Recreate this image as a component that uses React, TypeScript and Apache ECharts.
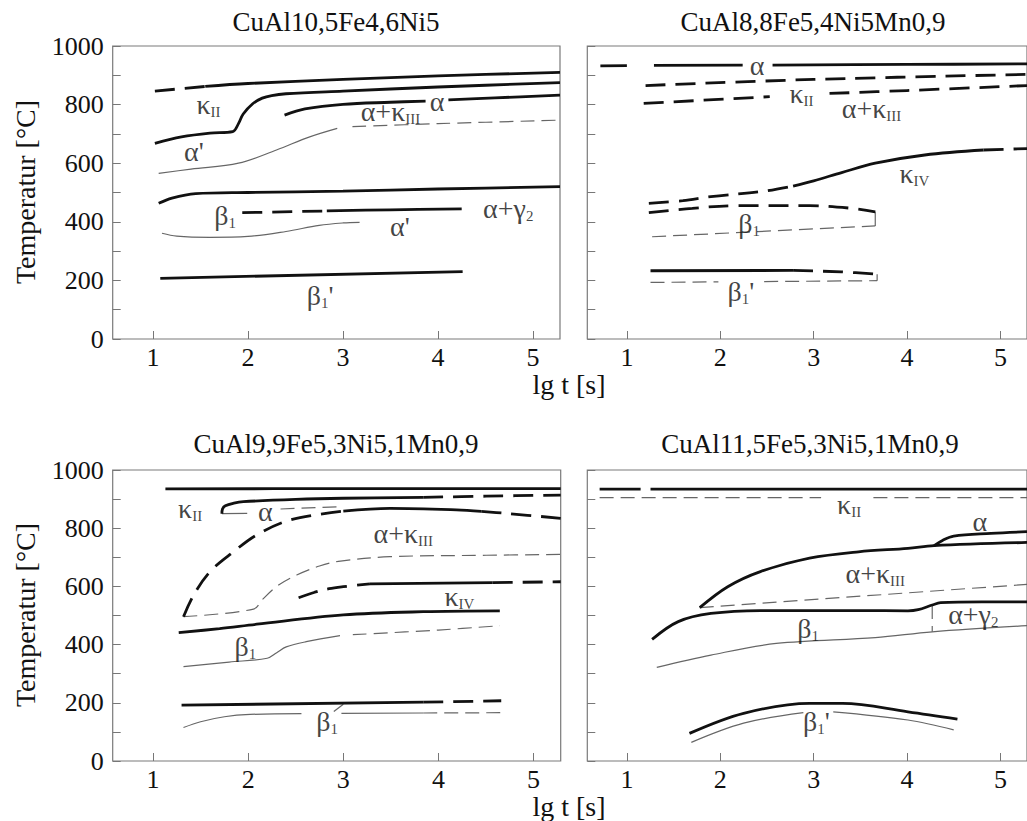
import React, { useEffect, useRef } from "react";
import * as echarts from "echarts";

// ---------- axis / text content ----------
const TITLES = [
  "CuAl10,5Fe4,6Ni5",
  "CuAl8,8Fe5,4Ni5Mn0,9",
  "CuAl9,9Fe5,3Ni5,1Mn0,9",
  "CuAl11,5Fe5,3Ni5,1Mn0,9",
];
const X_TICKS = [1, 2, 3, 4, 5];
const X_MIN = 0.576;
const X_MAX = 5.285;
const Y_MIN = 0;
const Y_MAX = 1000;
const Y_STEP = 100;
const Y_LABEL_STEP = 200;
const Y_NAME = "Temperatur [°C]";
const X_NAME = "lg t [s]";

// ---------- panel 1: CuAl10,5Fe4,6Ni5 ----------
const tlTopDash = [[1.02, 846], [1.55, 862]];
const tlTop = [[1.55, 862], [2, 872], [3, 886], [4, 898], [5.285, 910]];
const tlKappa = [[1.02, 668], [1.3, 690], [1.6, 703], [1.84, 708], [1.9, 735], [1.95, 768], [2.05, 803], [2.15, 822], [2.25, 831], [2.4, 837], [3, 846], [4, 860], [5.285, 875]];
const tlAlphaA = [[2.385, 764], [2.6, 785], [3.0, 801], [3.5, 808], [3.87, 812]];
const tlAlphaB = [[4.11, 816], [4.6, 823], [5.285, 832]];
const tlThin = [[1.06, 565], [1.4, 580], [1.9, 600], [2.3, 645], [2.65, 690], [2.94, 719]];
const tlThinDash = [[3.1, 725], [4, 735], [5.285, 747]];
const tlBeta = [[1.06, 463], [1.2, 481], [1.45, 496], [2, 500], [3, 505], [4, 512], [5.285, 520]];
const tlBetaDash = [[1.94, 431], [2.83, 437]];
const tlBetaSolid = [[2.83, 437], [3.5, 441], [4.25, 444]];
const tlAlphaPrime = [[1.095, 361], [1.25, 351], [1.6, 347], [2, 350], [2.4, 367], [2.75, 388], [3.0, 396], [3.175, 398]];
const tlBetaPrime = [[1.077, 207], [4.26, 230]];

// ---------- panel 2: CuAl8,8Fe5,4Ni5Mn0,9 ----------
const trAlphaA = [[0.716, 932], [1.0, 933]];
const trAlphaB = [[1.29, 934], [2.24, 935]];
const trAlphaC = [[2.56, 935], [4, 937], [5.285, 939]];
const trKappaII = [[1.2, 865], [3, 886], [5.285, 903]];
const trAlphaKappaA = [[1.18, 804], [2.53, 827]];
const trAlphaKappaB = [[3.17, 838], [4, 848], [5.285, 865]];
const trKappaIVDash = [[1.235, 463], [1.6, 472], [1.9, 486], [2.46, 504], [2.78, 522]];
const trKappaIV = [[2.78, 522], [3.0, 540], [3.3, 568], [3.66, 600], [4.19, 628], [4.82, 645]];
const trKappaIVDash2 = [[4.82, 645], [5.285, 650]];
const trBetaDash = [[1.235, 431], [1.7, 446], [2.18, 455], [2.956, 455], [3.41, 446], [3.66, 434]];
const trBetaVert = [[3.66, 434], [3.66, 386]];
const trBetaThin = [[1.27, 349], [3.66, 386]];
const trBetaPrime = [[1.253, 233], [2.78, 234]];
const trBetaPrimeDash = [[2.78, 234], [3.3, 229], [3.68, 221]];
const trBetaPrimeVert = [[3.68, 221], [3.68, 199]];
const trBetaPrimeThinA = [[1.253, 193], [1.98, 195]];
const trBetaPrimeThinB = [[2.47, 196], [3.68, 199]];

// ---------- panel 3: CuAl9,9Fe5,3Ni5,1Mn0,9 ----------
const blKappaII = [[1.13, 935], [3, 936], [5.285, 936]];
const blAlpha = [[1.724, 850], [1.73, 866], [1.76, 877], [1.85, 886], [1.95, 891], [2.5, 899], [3, 903], [3.84, 906]];
const blAlphaDash = [[3.84, 906], [4.5, 910], [5.285, 914]];
const blAlphaThin = [[1.724, 850], [1.99, 851]];
const blAlphaThinDash = [[2.34, 866], [2.97, 874]];
const blAkDashA = [[1.32, 496], [1.426, 570], [1.6, 651], [1.846, 719], [2.09, 777], [2.44, 828], [3.0, 859]];
const blAk = [[3.0, 859], [3.49, 868], [4.19, 863], [4.45, 858]];
const blAkDashB = [[4.45, 858], [4.71, 851], [5.285, 834]];
const blAkThin = [[1.32, 496], [2.056, 522], [2.15, 555], [2.3, 600], [2.51, 639], [2.75, 670], [2.97, 687], [3.49, 702], [4.5, 707], [5.285, 710]];
const blKappaIVDash = [[2.53, 561], [2.7, 580], [2.85, 592], [3.0, 599], [3.28, 609]];
const blKappaIV = [[3.28, 609], [4.57, 613]];
const blKappaIVDash2 = [[4.57, 613], [5.285, 616]];
const blBeta = [[1.27, 441], [1.7, 455], [2.09, 470], [3.0, 502], [3.84, 513], [4.645, 516]];
const blBetaThin = [[1.32, 324], [1.8, 340], [2.2, 353], [2.3, 372], [2.4, 392], [2.61, 410], [2.965, 431]];
const blBetaThinDash = [[3.1, 434], [4, 450], [4.645, 465]];
const blBetaPrime = [[1.3, 192], [3.84, 202]];
const blBetaPrimeDash = [[3.84, 202], [4.66, 207]];
const blBetaPrimeThinA = [[1.32, 115], [1.5, 135], [1.75, 152], [2.02, 160], [2.56, 163]];
const blBetaPrimeThinB = [[2.98, 164], [3.84, 165]];
const blBetaPrimeThinDash = [[3.84, 165], [4.66, 166]];
const blLeader = [[2.9, 170], [3.0, 195]];

// ---------- panel 4: CuAl11,5Fe5,3Ni5,1Mn0,9 ----------
const brKappaIIA = [[0.708, 934], [1.147, 934]];
const brKappaII = [[1.253, 934], [5.285, 934]];
const brKappaIIThinA = [[0.708, 905], [3.08, 905]];
const brKappaIIThinB = [[3.64, 905], [5.285, 905]];
const brAk = [[1.78, 527], [2.08, 599], [2.43, 651], [2.956, 697], [3.48, 719], [4.01, 731], [4.29, 740], [5.285, 751]];
const brAlpha = [[4.29, 740], [4.38, 758], [4.5, 773], [4.9, 782], [5.285, 788]];
const brAkThin = [[1.78, 527], [5.285, 607]];
const brBeta = [[1.27, 418], [1.55, 479], [1.9, 507], [2.43, 517], [3.5, 517], [4.01, 516], [4.12, 520], [4.27, 536], [4.36, 544], [4.8, 547], [5.285, 547]];
const brBetaVert = [[4.27, 536], [4.27, 444]];
const brBetaThin = [[1.32, 322], [1.9, 364], [2.6, 404], [3.66, 424], [4.27, 444], [5.285, 465]];
const brBetaPrime = [[1.67, 95], [2.25, 164], [2.956, 198], [3.31, 198], [4.01, 169], [4.54, 144]];
const brBetaPrimeThinA = [[1.69, 64], [2.25, 130], [2.89, 166]];
const brBetaPrimeThinB = [[3.21, 169], [4.01, 141], [4.5, 107]];

// ---------- phase labels (main text, subscript, tail, x, y) ----------
const tlLabels = [
  { t: "κ", s: "II", x: 1.585, y: 799 },
  { t: "α'", s: "", x: 1.43, y: 639 },
  { t: "α", s: "", x: 3.99, y: 812 },
  { t: "α+κ", s: "III", x: 3.5, y: 776 },
  { t: "β", s: "1", x: 1.76, y: 423 },
  { t: "α+γ", s: "2", x: 4.74, y: 446 },
  { t: "α'", s: "", x: 3.6, y: 383 },
  { t: "β", s: "1", tail: "'", x: 2.76, y: 150 },
];
const trLabels = [
  { t: "α", s: "", x: 2.394, y: 935 },
  { t: "κ", s: "II", x: 2.87, y: 838 },
  { t: "α+κ", s: "III", x: 3.62, y: 787 },
  { t: "κ", s: "IV", x: 4.08, y: 565 },
  { t: "β", s: "1", x: 2.31, y: 395 },
  { t: "β", s: "1", tail: "'", x: 2.22, y: 161 },
];
const blLabels = [
  { t: "κ", s: "II", x: 1.39, y: 868 },
  { t: "α", s: "", x: 2.18, y: 857 },
  { t: "α+κ", s: "III", x: 3.63, y: 782 },
  { t: "κ", s: "IV", x: 4.22, y: 565 },
  { t: "β", s: "1", x: 1.97, y: 393 },
  { t: "β", s: "1", x: 2.83, y: 135 },
];
const brLabels = [
  { t: "κ", s: "II", x: 3.38, y: 880 },
  { t: "α", s: "", x: 4.78, y: 822 },
  { t: "α+κ", s: "III", x: 3.66, y: 645 },
  { t: "β", s: "1", x: 2.94, y: 456 },
  { t: "α+γ", s: "2", x: 4.71, y: 502 },
  { t: "β", s: "1", tail: "'", x: 3.03, y: 135 },
];

// ---------- curve list: [panel, data, style kind] ----------
const CURVES: [number, number[][], string][] = [
  [0, tlTopDash, "thickDash"], [0, tlTop, "thick"], [0, tlKappa, "thick"],
  [0, tlAlphaA, "thick"], [0, tlAlphaB, "thick"], [0, tlThin, "thin"], [0, tlThinDash, "thinDash"],
  [0, tlBeta, "thick"], [0, tlBetaDash, "thickDash"], [0, tlBetaSolid, "thick"],
  [0, tlAlphaPrime, "thin"], [0, tlBetaPrime, "thick"],

  [1, trAlphaA, "thick"], [1, trAlphaB, "thick"], [1, trAlphaC, "thick"],
  [1, trKappaII, "thickDash"], [1, trAlphaKappaA, "thickDash"], [1, trAlphaKappaB, "thickDash"],
  [1, trKappaIVDash, "thickDash"], [1, trKappaIV, "thick"], [1, trKappaIVDash2, "thickDash"],
  [1, trBetaDash, "thickDash"], [1, trBetaVert, "thin"], [1, trBetaThin, "thinDash"],
  [1, trBetaPrime, "thick"], [1, trBetaPrimeDash, "thickDash"], [1, trBetaPrimeVert, "thin"],
  [1, trBetaPrimeThinA, "thinDash"], [1, trBetaPrimeThinB, "thinDash"],

  [2, blKappaII, "thick"], [2, blAlpha, "thick"], [2, blAlphaDash, "thickDash"],
  [2, blAlphaThin, "thin"], [2, blAlphaThinDash, "thinDash"],
  [2, blAkDashA, "thickDash"], [2, blAk, "thick"], [2, blAkDashB, "thickDash"], [2, blAkThin, "thinDash"],
  [2, blKappaIVDash, "thickDash"], [2, blKappaIV, "thick"], [2, blKappaIVDash2, "thickDash"],
  [2, blBeta, "thick"], [2, blBetaThin, "thin"], [2, blBetaThinDash, "thinDash"],
  [2, blBetaPrime, "thick"], [2, blBetaPrimeDash, "thickDash"],
  [2, blBetaPrimeThinA, "thin"], [2, blBetaPrimeThinB, "thin"], [2, blBetaPrimeThinDash, "thinDash"],
  [2, blLeader, "thin"],

  [3, brKappaIIA, "thick"], [3, brKappaII, "thick"], [3, brKappaIIThinA, "thinDash"], [3, brKappaIIThinB, "thinDash"],
  [3, brAk, "thick"], [3, brAlpha, "thick"], [3, brAkThin, "thinDash"],
  [3, brBeta, "thick"], [3, brBetaVert, "thinDash"], [3, brBetaThin, "thin"],
  [3, brBetaPrime, "thick"], [3, brBetaPrimeThinA, "thin"], [3, brBetaPrimeThinB, "thin"],
];
const LABELS = [tlLabels, trLabels, blLabels, brLabels];

// ---------- layout & styles ----------
const FONT = "Liberation Serif";
const INK = "#111";
const GRIDS = [
  { left: 112.7, top: 46, width: 447.3, height: 293 },
  { left: 587.3, top: 46, width: 447, height: 293 },
  { left: 112.7, top: 470, width: 448, height: 291 },
  { left: 587.3, top: 470, width: 447, height: 291 },
];
const TITLE_POS = [[336, 22], [813, 22], [336, 444], [810, 444]];
const YNAME_POS = [[25, 192], [25, 615]];
const XNAME_POS = [[569, 384], [569, 806]];

const STYLES: Record<string, any> = {
  thick: { color: INK, width: 2.8, type: "solid" },
  thickDash: { color: INK, width: 2.8, type: [20, 10] },
  thin: { color: "#666", width: 1.2, type: "solid" },
  thinDash: { color: "#666", width: 1.2, type: [14, 7] },
};

function buildOption() {
  const grid = GRIDS.map((g) => ({
    ...g,
    show: true,
    borderColor: "#7a7a7a",
    borderWidth: 1.2,
    backgroundColor: "transparent",
    containLabel: false,
  }));
  const xAxis = GRIDS.map((_, i) => ({
    type: "value",
    gridIndex: i,
    min: X_MIN,
    max: X_MAX,
    axisLine: { show: false },
    splitLine: { show: false },
    axisTick: { show: true, inside: true, length: 8, customValues: X_TICKS, lineStyle: { color: "#777", width: 1 } },
    axisLabel: { show: true, customValues: X_TICKS, margin: 5, color: INK, fontFamily: FONT, fontSize: 26 },
  }));
  const yAxis = GRIDS.map((_, i) => ({
    type: "value",
    gridIndex: i,
    min: Y_MIN,
    max: Y_MAX,
    interval: Y_STEP,
    axisLine: { show: false },
    splitLine: { show: false },
    axisTick: { show: true, inside: true, length: 8, lineStyle: { color: "#777", width: 1 } },
    axisLabel: {
      show: i % 2 === 0,
      margin: 9,
      color: INK,
      fontFamily: FONT,
      fontSize: 26,
      formatter: (v: number) => (v % Y_LABEL_STEP === 0 ? String(v) : ""),
    },
  }));

  const series: any[] = CURVES.map(([gi, data, kind]) => ({
    type: "line",
    xAxisIndex: gi,
    yAxisIndex: gi,
    data,
    symbol: "none",
    showSymbol: false,
    smooth: data.length > 2 ? 0.35 : false,
    lineStyle: STYLES[kind],
    silent: true,
    z: kind.startsWith("thick") ? 3 : 2,
  }));

  LABELS.forEach((list, gi) => {
    series.push({
      type: "scatter",
      xAxisIndex: gi,
      yAxisIndex: gi,
      symbolSize: 1,
      itemStyle: { color: "rgba(0,0,0,0)" },
      silent: true,
      z: 5,
      data: list.map((l: any) => ({ value: [l.x, l.y], meta: l })),
      label: {
        show: true,
        position: "inside",
        formatter: (p: any) => {
          const l = p.data.meta;
          let s = `{m|${l.t}}`;
          if (l.s) s += `{s|${l.s}}`;
          if (l.tail) s += `{m|${l.tail}}`;
          return s;
        },
        rich: {
          m: { fontFamily: FONT, fontSize: 28, color: INK, lineHeight: 30 },
          s: { fontFamily: FONT, fontSize: 15, color: INK, lineHeight: 15, verticalAlign: "bottom" },
        },
      },
    });
  });

  const graphic: any[] = [];
  TITLES.forEach((t, i) => {
    graphic.push({
      type: "text",
      x: TITLE_POS[i][0],
      y: TITLE_POS[i][1],
      silent: true,
      style: { text: t, fontFamily: FONT, fontSize: 27, fill: INK, align: "center", verticalAlign: "middle" },
    });
  });
  YNAME_POS.forEach(([x, y]) => {
    graphic.push({
      type: "text",
      x,
      y,
      rotation: Math.PI / 2,
      silent: true,
      style: { text: Y_NAME, fontFamily: FONT, fontSize: 28, fill: INK, align: "center", verticalAlign: "middle" },
    });
  });
  XNAME_POS.forEach(([x, y]) => {
    graphic.push({
      type: "text",
      x,
      y,
      silent: true,
      style: { text: X_NAME, fontFamily: FONT, fontSize: 28, fill: INK, align: "center", verticalAlign: "middle" },
    });
  });

  return {
    animation: false,
    backgroundColor: "#fff",
    textStyle: { fontFamily: FONT },
    grid,
    xAxis,
    yAxis,
    series,
    graphic,
  };
}

export default function App() {
  const ref = useRef<HTMLDivElement>(null);
  useEffect(() => {
    if (!ref.current) return;
    const chart = echarts.init(ref.current, undefined, { renderer: "svg" });
    chart.setOption(buildOption() as any);
    return () => chart.dispose();
  }, []);
  return (
    <div
      ref={ref}
      style={{ position: "fixed", left: 0, top: 0, width: 1027, height: 821, background: "#fff" }}
    />
  );
}
